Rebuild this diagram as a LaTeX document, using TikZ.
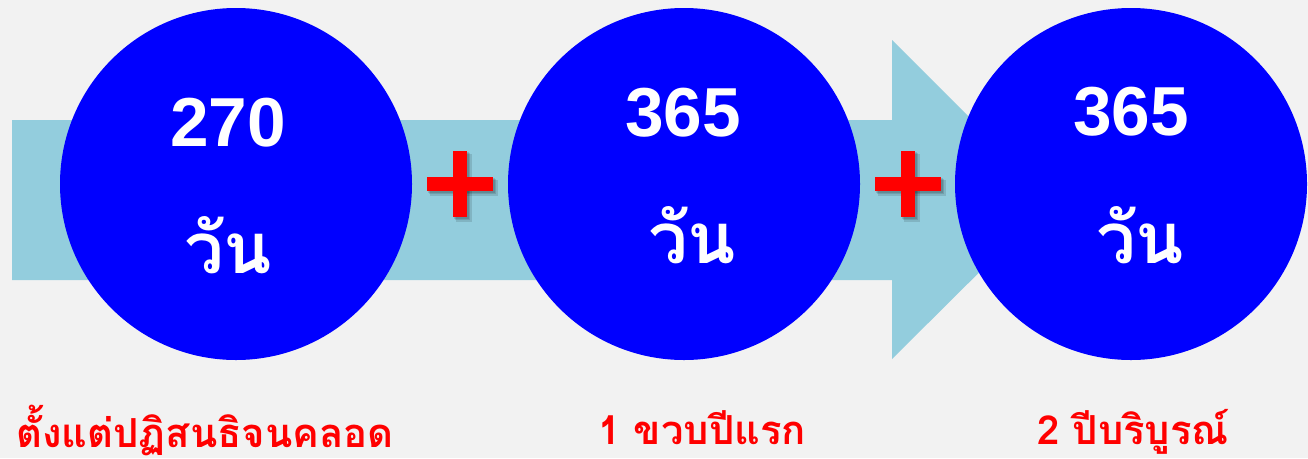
\documentclass[tikz,border=0pt]{standalone}
\usepackage{fontspec}
\setmainfont{Liberation Sans}
\newfontfamily\thaifont[Script=Thai]{Loma}
\definecolor{bgc}{HTML}{F2F2F2}
\definecolor{arrowc}{HTML}{93CDDD}
\definecolor{circc}{HTML}{0000FF}
\definecolor{plusc}{HTML}{FF0000}
\begin{document}
\begin{tikzpicture}[x=0.75pt,y=-0.75pt,
  circ/.style={circle, fill=circc, minimum size=264pt, inner sep=0pt},
  numtxt/.style={anchor=base, inner sep=0pt, text=white, font=\bfseries\fontsize{52}{52}\selectfont},
  daytxt/.style={anchor=base, inner sep=0pt, text=white, font=\thaifont\bfseries\fontsize{53}{53}\selectfont},
  labtxt/.style={anchor=base, inner sep=0pt, text=plusc, font=\thaifont\bfseries\fontsize{30}{30}\selectfont},
  plusshadow/.style={fill=black, opacity=0.12},
  plusfill/.style={fill=plusc}]
\fill[bgc] (0,0) rectangle (1308,458);
\useasboundingbox (0,0) rectangle (1308,458);
% big arrow
\fill[arrowc] (12,120) -- (892,120) -- (892,40) -- (1052,200) -- (892,359) -- (892,280) -- (12,280) -- cycle;
% plus signs
\coordinate (p1) at (460,184);
\coordinate (p2) at (908,184);
\foreach \p in {p1,p2}{
  \begin{scope}[shift={(\p)}]
    \foreach \d in {1,2,3}{
      \fill[plusshadow] (-7+\d,-33+\d) rectangle (7+1.5*\d,33+1.5*\d);
      \fill[plusshadow] (-33+\d,-7+\d) rectangle (33+1.5*\d,7+1.5*\d);
    }
    \fill[plusfill] (-7,-33) rectangle (7,33);
    \fill[plusfill] (-33,-7) rectangle (33,7);
  \end{scope}
}
% circles
\node[circ] (c1) at (236,184) {};
\node[circ] (c2) at (684,184) {};
\node[circ] (c3) at (1131,184) {};
% circle texts
\node[numtxt] (n1) at (228,146) {270};
\node[numtxt] (n2) at (683,136) {365};
\node[numtxt] (n3) at (1131,135) {365};
\node[daytxt] (d1) at (228,273) {วัน};
\node[daytxt] (d2) at (692,263) {วัน};
\node[daytxt] (d3) at (1140,263) {วัน};
% labels
\node[labtxt] (l1) at (205,447) {ตั้งแต่ปฏิสนธิจนคลอด};
\node[labtxt] (l2) at (702,444) {1 ขวบปีแรก};
\node[labtxt] (l3) at (1133,444) {2 ปีบริบูรณ์};
\end{tikzpicture}
\end{document}
